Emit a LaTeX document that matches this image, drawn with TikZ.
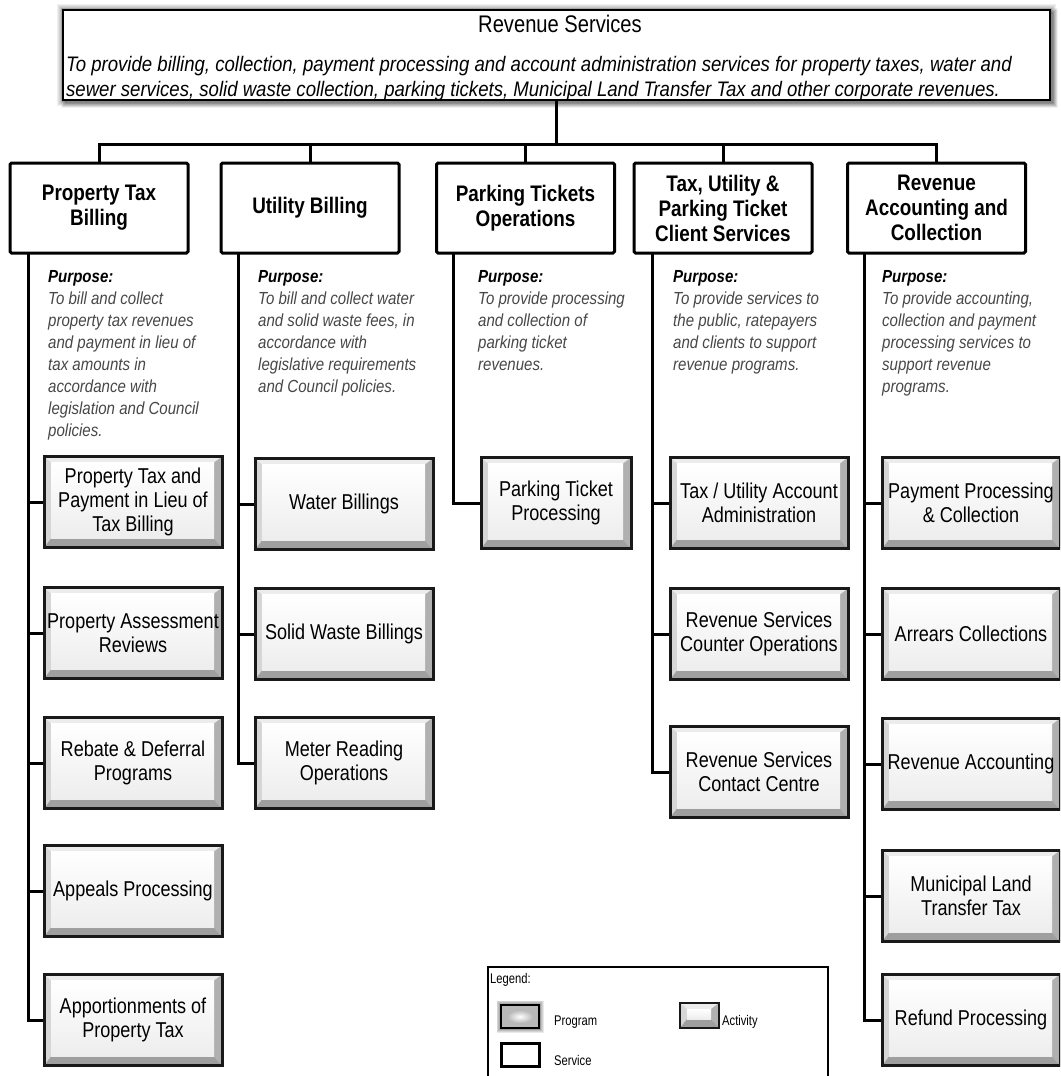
\documentclass[tikz,border=0pt]{standalone}
\usepackage{fontspec}
\newfontfamily\narrow[FakeStretch=0.84]{Liberation Sans}
\newfontfamily\purpfont[FakeStretch=0.86]{Liberation Sans}
\newfontfamily\descfont[FakeStretch=0.885]{Liberation Sans}
\newfontfamily\legfont[FakeStretch=0.8]{Liberation Sans}
\usetikzlibrary{calc}
\tikzset{
  conn/.style={line width=3pt, black},
  svc/.style={rectangle, draw=black, line width=3pt, fill=white, rounded corners=1.5pt,
    minimum width=178pt, minimum height=90pt, inner sep=0pt, align=center,
    font=\narrow\bfseries\fontsize{22.5}{25}\selectfont},
  bevel/.style={path picture={
      \path (path picture bounding box.north west) coordinate (bvNW)
            (path picture bounding box.north east) coordinate (bvNE)
            (path picture bounding box.south east) coordinate (bvSE)
            (path picture bounding box.south west) coordinate (bvSW);
      \coordinate (bvnw) at ([xshift=7pt,yshift=-6pt]bvNW);
      \coordinate (bvne) at ([xshift=-8pt,yshift=-6pt]bvNE);
      \coordinate (bvse) at ([xshift=-8pt,yshift=9pt]bvSE);
      \coordinate (bvsw) at ([xshift=7pt,yshift=9pt]bvSW);
      \fill[gray!15] (bvNW) -- (bvNE) -- (bvne) -- (bvnw) -- cycle;
      \fill[gray!32] (bvNW) -- (bvnw) -- (bvsw) -- (bvSW) -- cycle;
      \fill[gray!62] (bvNE) -- (bvSE) -- (bvse) -- (bvne) -- cycle;
      \fill[gray!75] (bvSW) -- (bvsw) -- (bvse) -- (bvSE) -- cycle;
      \shade[top color=white, bottom color=gray!14] (bvnw) rectangle (bvse);
  }},
  act/.style={rectangle, draw=black!90, line width=3pt, bevel,
    minimum width=178pt, minimum height=91pt, inner sep=0pt, align=center,
    font=\narrow\fontsize{21.5}{24}\selectfont},
  purpose/.style={anchor=north west, inner sep=0pt, align=left, text=black!72,
    font=\purpfont\itshape\fontsize{17.5}{22}\selectfont},
  legtext/.style={anchor=west, inner sep=0pt, font=\legfont\fontsize{14}{16}\selectfont},
}
\newcommand{\purp}{{\color{black}\bfseries Purpose:}}
\begin{document}
\begin{tikzpicture}[x=1pt,y=-1pt]
\useasboundingbox (0,0) rectangle (1060,1076);
\clip (0,0) rectangle (1060,1076);
\fill[white] (0,0) rectangle (1060,1076);

% ---- top program box with glow and drop shadow
\foreach \i in {1,...,7}{
  \draw[black, opacity=0.06, line width=\i*1.6pt] (63,10) rectangle (1050,100);
  \draw[black, opacity=0.05, line width=\i*1.4pt] (66,13) rectangle (1053,103);
}
\node[rectangle, draw=black, line width=2.2pt, fill=white, minimum width=987pt, minimum height=90pt, inner sep=0pt] (top) at (556.5,55) {};
\node[inner sep=0pt, font=\narrow\fontsize{24}{26}\selectfont] (toptitle) at (560,24) {Revenue Services};
\node[anchor=north west, inner sep=0pt, align=left, font=\descfont\itshape\fontsize{21}{25}\selectfont] (topdesc) at (66,56)
 {To provide billing, collection, payment processing and account administration services for property taxes, water and\\
  sewer services, solid waste collection, parking tickets, Municipal Land Transfer Tax and other corporate revenues.};

% ---- service boxes
\node[svc] (s1) at (99,208) {Property Tax\\Billing};
\node[svc] (s2) at (310,208) {Utility Billing};
\node[svc] (s3) at (525.5,208) {Parking Tickets\\Operations};
\node[svc] (s4) at (723,208) {Tax, Utility \&\\Parking Ticket\\Client Services};
\node[svc] (s5) at (936.5,208) {Revenue\\Accounting and\\Collection};

\coordinate (bus) at (556.5,144);
\draw[conn] (top.south) -- (bus);
\foreach \s in {s1,s2,s3,s4,s5}{ \draw[conn] (bus) -| (\s.north); }

% ---- purposes
\node[purpose] (p1) at (48,270) {\purp\\To bill and collect\\property tax revenues\\and payment in lieu of\\tax amounts in\\accordance with\\legislation and Council\\policies.};
\node[purpose] (p2) at (258,270) {\purp\\To bill and collect water\\and solid waste fees, in\\accordance with\\legislative requirements\\and Council policies.};
\node[purpose] (p3) at (478,270) {\purp\\To provide processing\\and collection of\\parking ticket\\revenues.};
\node[purpose] (p4) at (673,270) {\purp\\To provide services to\\the public, ratepayers\\and clients to support\\revenue programs.};
\node[purpose] (p5) at (882,270) {\purp\\To provide accounting,\\collection and payment\\processing services to\\support revenue\\programs.};

% ---- activities
\node[act] (a11) at (133,502) {Property Tax and\\Payment in Lieu of\\Tax Billing};
\node[act] (a12) at (133,633) {Property Assessment\\Reviews};
\node[act] (a13) at (133,763) {Rebate \& Deferral\\Programs};
\node[act] (a14) at (133,891) {Appeals Processing};
\node[act] (a15) at (133,1020) {Apportionments of\\Property Tax};

\node[act] (a21) at (344,504) {Water Billings};
\node[act] (a22) at (344,634) {Solid Waste Billings};
\node[act] (a23) at (344,763) {Meter Reading\\Operations};

\node[act, minimum width=150pt] (a31) at (556,503) {Parking Ticket\\Processing};

\node[act] (a41) at (759,503) {Tax / Utility Account\\Administration};
\node[act] (a42) at (759,634) {Revenue Services\\Counter Operations};
\node[act] (a43) at (759,772) {Revenue Services\\Contact Centre};

\node[act] (a51) at (971,503) {Payment Processing\\\& Collection};
\node[act] (a52) at (971,634) {Arrears Collections};
\node[act] (a53) at (971,764) {Revenue Accounting};
\node[act] (a54) at (971,896) {Municipal Land\\Transfer Tax};
\node[act] (a55) at (971,1020) {Refund Processing};

% ---- column connectors
\coordinate (c1) at (28,253);
\coordinate (c2) at (238,253);
\coordinate (c3) at (453,253);
\coordinate (c4) at (652,253);
\coordinate (c5) at (864,253);
\foreach \a in {a11,a12,a13,a14,a15}{ \draw[conn] (c1) |- (\a.west); }
\foreach \a in {a21,a22,a23}{ \draw[conn] (c2) |- (\a.west); }
\draw[conn] (c3) |- (a31.west);
\foreach \a in {a41,a42,a43}{ \draw[conn] (c4) |- (\a.west); }
\foreach \a in {a51,a52,a53,a54,a55}{ \draw[conn] (c5) |- (\a.west); }

% ---- legend
\draw[black, line width=2.2pt] (488,1090) -- (488,967) -- (828,967) -- (828,1090);
\node[legtext] (lgt) at (490,980) {Legend:};
\foreach \i in {1,...,6}{
  \draw[black, opacity=0.09, line width=\i*1.5pt] (501,1005) rectangle (539,1028);
}
\node[rectangle, draw=black, line width=2.2pt, fill=gray!55, minimum width=38pt, minimum height=23pt, inner sep=0pt] (lprog) at (520,1016.5) {};
\shade[inner color=white, outer color=gray!55] (507,1010) rectangle (533,1023);
\node[legtext] (lprogt) at (554,1022) {Program};
\node[act, minimum width=39pt, minimum height=25pt, line width=2.2pt] (lact) at (699.5,1015.5) {};
\node[legtext] (lactt) at (722,1022) {Activity};
\node[rectangle, draw=black, line width=3pt, fill=white, minimum width=38pt, minimum height=23pt, inner sep=0pt] (lsvc) at (520,1054.5) {};
\node[legtext] (lsvct) at (554,1060) {Service};
\end{tikzpicture}
\end{document}
